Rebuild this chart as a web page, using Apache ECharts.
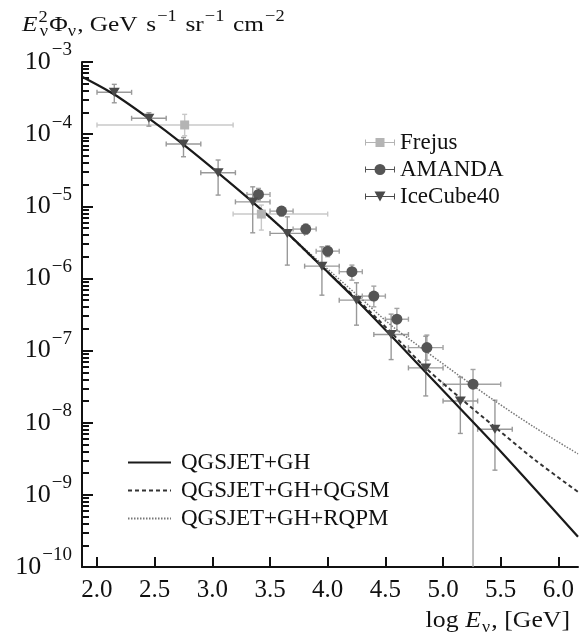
<!DOCTYPE html>
<html><head><meta charset="utf-8">
<script src="https://cdn.jsdelivr.net/npm/echarts@6/dist/echarts.min.js"></script>
<style>html,body{margin:0;padding:0;background:#fff}#c{width:581px;height:635px}</style>
</head><body><div id="c"></div>
<script>
// ---------- axis ticks ----------
const xTickValues = [2.0, 2.5, 3.0, 3.5, 4.0, 4.5, 5.0, 5.5, 6.0];
const yDecades = [1e-10, 1e-9, 1e-8, 1e-7, 1e-6, 1e-5, 1e-4, 1e-3];
const yMinorMultipliers = [2, 3, 4, 5, 6, 7, 8, 9];

// ---------- model curves (log E, E^2 Phi) ----------
const ghE    = [1.87, 2.15, 2.45, 2.75, 3.05, 3.35, 3.65, 3.95, 4.25, 4.55, 5.0, 5.5, 6.17];
const ghFlux = [6.25e-4, 3.55e-4, 1.65e-4, 7.14e-5, 2.90e-5, 1.14e-5, 4.24e-6, 1.46e-6, 4.99e-7, 1.60e-7, 2.79e-8, 4.0e-9, 2.63e-10];

const qgsmE    = [3.65, 3.95, 4.25, 4.55, 4.85, 5.15, 5.45, 5.8, 6.17];
const qgsmFlux = [4.24e-6, 1.46e-6, 5.25e-7, 1.78e-7, 5.75e-8, 2.19e-8, 8.7e-9, 3.02e-9, 1.10e-9];

const rqpmE    = [3.35, 3.65, 3.95, 4.25, 4.55, 4.85, 5.15, 5.45, 5.8, 6.17];
const rqpmFlux = [1.14e-5, 4.24e-6, 1.58e-6, 6.0e-7, 2.24e-7, 9.8e-8, 4.37e-8, 2.0e-8, 8.5e-9, 3.7e-9];

// ---------- measurements ----------
const frE    = [2.76, 3.425];
const frELo  = [2.0, 3.18];
const frEHi  = [3.18, 4.0];
const frF    = [1.34e-4, 7.8e-6];
const frFUp  = [1.88e-4, 1.04e-5];
const frFLo  = [9.5e-5, 4.68e-6];

const amE    = [3.40, 3.60, 3.81, 4.00, 4.21, 4.40, 4.60, 4.86, 5.26];
const amELo  = [3.3, 3.5, 3.7, 3.9, 4.1, 4.3, 4.5, 4.7, 5.0];
const amEHi  = [3.5, 3.7, 3.9, 4.1, 4.3, 4.5, 4.7, 5.0, 5.5];
const amF    = [1.46e-5, 8.57e-6, 4.83e-6, 2.39e-6, 1.24e-6, 5.69e-7, 2.72e-7, 1.10e-7, 3.42e-8];
const amFUp  = [1.77e-5, 9.84e-6, 5.66e-6, 2.83e-6, 1.53e-6, 7.82e-7, 3.84e-7, 1.64e-7, 5.47e-8];
const amFLo  = [1.22e-5, 7.31e-6, 4.11e-6, 2.0e-6, 9.46e-7, 4.04e-7, 1.87e-7, 7.36e-8, 1e-10];

const icE    = [2.15, 2.45, 2.75, 3.05, 3.35, 3.65, 3.95, 4.25, 4.55, 4.85, 5.15, 5.45];
const icELo  = [2.0, 2.3, 2.6, 2.9, 3.2, 3.5, 3.8, 4.1, 4.4, 4.7, 5.0, 5.3];
const icEHi  = [2.3, 2.6, 2.9, 3.2, 3.5, 3.8, 4.1, 4.4, 4.7, 5.0, 5.3, 5.6];
const icF    = [3.80e-4, 1.66e-4, 7.3e-5, 2.92e-5, 1.15e-5, 4.21e-6, 1.48e-6, 5.0e-7, 1.67e-7, 5.75e-8, 2.0e-8, 8.1e-9];
const icFUp  = [4.9e-4, 1.98e-4, 9.0e-5, 4.38e-5, 1.86e-5, 7.14e-6, 2.74e-6, 8.7e-7, 3.2e-7, 1.58e-7, 4.3e-8, 2.05e-8];
const icFLo  = [2.72e-4, 1.29e-4, 4.86e-5, 1.43e-5, 4.29e-6, 1.53e-6, 5.86e-7, 2.25e-7, 7.5e-8, 2.35e-8, 7.1e-9, 2.2e-9];

// ---------- build ----------
const SERIF = "'Liberation Serif','DejaVu Serif',serif";
const zip2 = (a, b) => a.map((v, i) => [v, b[i]]);
const errData = (e, f, elo, ehi, flo, fup) => e.map((v, i) => [v, f[i], elo[i], ehi[i], flo[i], fup[i]]);
const yMinor = [];
yDecades.slice(0, -1).forEach(d => yMinorMultipliers.forEach(m => yMinor.push(m * d)));

function errRender(color) {
  return function (params, api) {
    const x = api.value(0), y = api.value(1);
    const xl = api.value(2), xh = api.value(3), yl = api.value(4), yh = api.value(5);
    const pL = api.coord([xl, y]), pR = api.coord([xh, y]);
    const pT = api.coord([x, yh]), pB = api.coord([x, yl]);
    const c = 2.5;
    const st = { stroke: color, lineWidth: 1.4 };
    const ch = [
      { type: 'line', shape: { x1: pL[0], y1: pL[1], x2: pR[0], y2: pR[1] }, style: st },
      { type: 'line', shape: { x1: pT[0], y1: pT[1], x2: pB[0], y2: pB[1] }, style: st },
      { type: 'line', shape: { x1: pL[0], y1: pL[1] - c, x2: pL[0], y2: pL[1] + c }, style: st },
      { type: 'line', shape: { x1: pR[0], y1: pR[1] - c, x2: pR[0], y2: pR[1] + c }, style: st },
      { type: 'line', shape: { x1: pT[0] - c, y1: pT[1], x2: pT[0] + c, y2: pT[1] }, style: st }
    ];
    if (yl > 1e-10) ch.push({ type: 'line', shape: { x1: pB[0] - c, y1: pB[1], x2: pB[0] + c, y2: pB[1] }, style: st });
    return { type: 'group', children: ch };
  };
}

const barPath = 'M0,5.4H30V6.6H0Z M0,3H1V9H0Z M29,3H30V9H29Z ';
const iconSquare = 'path://' + barPath + 'M10.5,1.5H19.5V10.5H10.5Z';
const iconCircle = 'path://' + barPath + 'M20.5,6A5.5,5.5 0 1 1 9.5,6A5.5,5.5 0 1 1 20.5,6Z';
const iconTri = 'path://' + barPath + 'M9.5,1H20.5L15,11Z';

// ---- math-like text runs (title and axis name) ----
const mctx = document.createElement('canvas').getContext('2d');
function textW(t, size, italic) {
  mctx.font = (italic ? 'italic ' : '') + size + 'px ' + SERIF;
  return mctx.measureText(t).width;
}
function runs(parts) {
  let x = 0; const kids = [];
  parts.forEach(p => {
    x += p.gap || 0;
    kids.push({ type: 'text', x: x, y: p.dy || 0, style: {
      text: p.t, fontFamily: SERIF, fontSize: p.s, fontStyle: p.it ? 'italic' : 'normal',
      fill: '#111', align: 'left', verticalAlign: 'middle' } });
    if (!p.stack) x += textW(p.t, p.s, p.it);
  });
  return { kids, width: x };
}
const titleRuns = runs([
  { t: 'E', s: 22, it: true },
  { t: '2', s: 16, dy: -7, gap: 1, stack: true },
  { t: 'ν', s: 16, dy: 6.5, gap: 1 },
  { t: 'Φ', s: 22, gap: 1 },
  { t: 'ν', s: 16, dy: 6.5 },
  { t: ', GeV', s: 22, gap: 1 },
  { t: ' s', s: 22, gap: 2 },
  { t: '−1', s: 16, dy: -8.5, gap: 1 },
  { t: ' sr', s: 22, gap: 2 },
  { t: '−1', s: 16, dy: -8.5, gap: 1 },
  { t: ' cm', s: 22, gap: 2 },
  { t: '−2', s: 16, dy: -8.5, gap: 1 }
]);
const nameRuns = runs([
  { t: 'log', s: 23 },
  { t: 'E', s: 23, it: true, gap: 6 },
  { t: 'ν', s: 16, dy: 6.5, gap: 1 },
  { t: ', [GeV]', s: 23, gap: 1 }
]);
const TITLE_SX = 1.15, NAME_SX = 1.12;

const chart = echarts.init(document.getElementById('c'), null, { renderer: 'canvas' });
chart.setOption({
  animation: false,
  backgroundColor: '#fff',
  grid: { left: 82, right: 3, top: 62, bottom: 68, containLabel: false },
  xAxis: {
    type: 'value', min: 1.87, max: 6.17,
    axisLine: { lineStyle: { color: '#111', width: 2 } },
    axisTick: { inside: true, length: 10, lineStyle: { color: '#111', width: 2 }, customValues: xTickValues },
    axisLabel: { customValues: xTickValues, formatter: v => v.toFixed(1), fontFamily: SERIF, fontSize: 25, color: '#111', margin: 11 },
    splitLine: { show: false }
  },
  yAxis: [{
    type: 'log', logBase: 10, min: 1e-10, max: 1e-3, position: 'left',
    axisLine: { show: true, lineStyle: { color: '#111', width: 2 } },
    axisTick: { show: true, inside: true, length: 11, lineStyle: { color: '#111', width: 2 }, customValues: yDecades },
    axisLabel: {
      customValues: yDecades, margin: 10,
      formatter: v => '{b|10}{e|−' + Math.round(-Math.log10(v)) + '}',
      rich: {
        b: { fontFamily: SERIF, fontSize: 26, padding: [10, 0, 10, 0], color: '#111' },
        e: { fontFamily: SERIF, fontSize: 19, verticalAlign: 'top', padding: [2, 0, 0, 1], color: '#111' }
      }
    },
    splitLine: { show: false }
  }, {
    type: 'log', logBase: 10, min: 1e-10, max: 1e-3, position: 'left', offset: 0,
    axisLine: { show: false },
    axisTick: { show: true, inside: true, length: 7, lineStyle: { color: '#111', width: 2 }, customValues: yMinor },
    axisLabel: { show: false },
    splitLine: { show: false }
  }],
  legend: [{
    orient: 'vertical', left: 365, top: 131, padding: 0,
    itemWidth: 30, itemHeight: 12, itemGap: 4,
    textStyle: { fontFamily: SERIF, fontSize: 23, lineHeight: 23, color: '#111' },
    data: [{ name: 'Frejus', icon: iconSquare }, { name: 'AMANDA', icon: iconCircle }, { name: 'IceCube40', icon: iconTri }]
  }, {
    orient: 'vertical', left: 127, top: 451, padding: 0,
    itemWidth: 43, itemHeight: 12, itemGap: 5,
    itemStyle: { opacity: 0 },
    textStyle: { fontFamily: SERIF, fontSize: 23, lineHeight: 23, color: '#111', padding: [0, 0, 0, 5] },
    data: ['QGSJET+GH', 'QGSJET+GH+QGSM', 'QGSJET+GH+RQPM']
  }],
  graphic: [
    { type: 'group', x: 22, y: 25, scaleX: TITLE_SX, children: titleRuns.kids },
    { type: 'group', x: 570 - nameRuns.width * NAME_SX, y: 621, scaleX: NAME_SX, children: nameRuns.kids }
  ],
  series: [
    { type: 'custom', name: 'errFrejus', renderItem: errRender('#c8c8c8'), clip: true, z: 1,
      data: errData(frE, frF, frELo, frEHi, frFLo, frFUp), encode: { x: 0, y: 1 } },
    { type: 'custom', name: 'errAMANDA', renderItem: errRender('#a3a3a3'), clip: true, z: 1,
      data: errData(amE, amF, amELo, amEHi, amFLo, amFUp), encode: { x: 0, y: 1 } },
    { type: 'custom', name: 'errIceCube', renderItem: errRender('#999'), clip: true, z: 1,
      data: errData(icE, icF, icELo, icEHi, icFLo, icFUp), encode: { x: 0, y: 1 } },
    { type: 'line', name: 'QGSJET+GH', data: zip2(ghE, ghFlux), symbol: 'none', smooth: 0.3, z: 3,
      lineStyle: { color: '#1a1a1a', width: 2.2, type: 'solid' }, itemStyle: { color: '#1a1a1a' } },
    { type: 'line', name: 'QGSJET+GH+QGSM', data: zip2(qgsmE, qgsmFlux), symbol: 'none', smooth: 0.3, z: 2,
      lineStyle: { color: '#333', width: 2, type: [4, 3] }, itemStyle: { color: '#333' } },
    { type: 'line', name: 'QGSJET+GH+RQPM', data: zip2(rqpmE, rqpmFlux), symbol: 'none', smooth: 0.3, z: 2,
      lineStyle: { color: '#777', width: 1.5, type: [1.5, 1.5] }, itemStyle: { color: '#777' } },
    { type: 'scatter', name: 'Frejus', data: zip2(frE, frF), symbol: 'rect', symbolSize: 9, z: 4,
      itemStyle: { color: '#b4b4b4', opacity: 1 } },
    { type: 'scatter', name: 'AMANDA', data: zip2(amE, amF), symbol: 'circle', symbolSize: 11, z: 4,
      itemStyle: { color: '#555', opacity: 1 } },
    { type: 'scatter', name: 'IceCube40', data: zip2(icE, icF), symbol: 'triangle', symbolRotate: 180, symbolSize: [11, 9], z: 4,
      itemStyle: { color: '#4a4a4a', opacity: 1 } }
  ]
});
</script>
</body></html>
